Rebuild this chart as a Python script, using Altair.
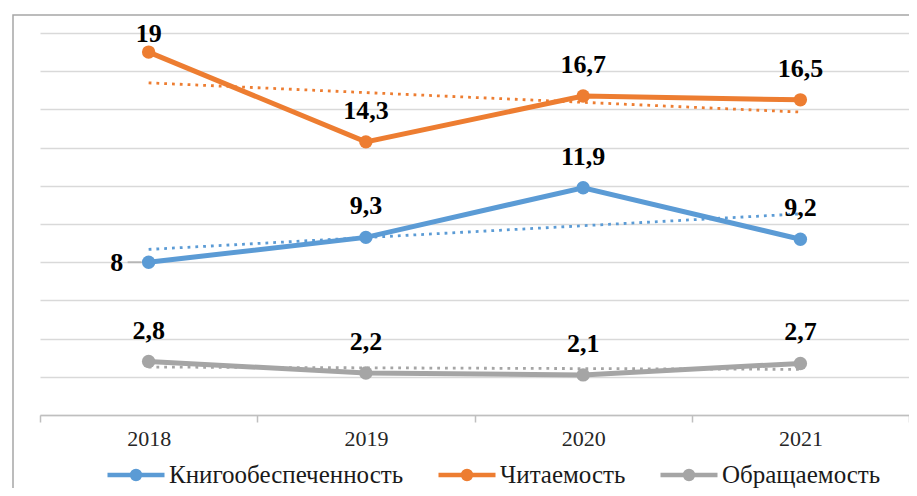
import altair as alt
import pandas as pd

years = ["2018", "2019", "2020", "2021"]
series = ["Книгообеспеченность", "Читаемость", "Обращаемость"]
book = [8, 9.3, 11.9, 9.2]
read = [19, 14.3, 16.7, 16.5]
circ = [2.8, 2.2, 2.1, 2.7]
colors = ["#5B9BD5", "#ED7D31", "#A5A5A5"]
y_ticks = [0, 2, 4, 6, 8, 10, 12, 14, 16, 18, 20]

rows = []
for s, vals in zip(series, [book, read, circ]):
    for yr, v in zip(years, vals):
        rows.append({"series": s, "year": yr, "value": v})
df = pd.DataFrame(rows)

FONT = "Liberation Serif"

x_enc = alt.X(
    "year:O",
    bandPosition=0.5,
    scale=alt.Scale(type="band", domain=years, paddingInner=0, paddingOuter=0),
    axis=alt.Axis(
        title=None, labelAngle=0, labelFont=FONT, labelFontSize=22, labelColor="#262626",
        domainColor="#BFBFBF", domainWidth=1.5, tickColor="#BFBFBF", tickWidth=1.5,
        tickSize=7, tickBand="extent", labelPadding=6, grid=False,
    ),
)
y_enc = alt.Y(
    "value:Q",
    scale=alt.Scale(domain=[0, 20], nice=False, zero=True),
    axis=alt.Axis(
        title=None, values=y_ticks, labels=False, ticks=False, domain=False,
        grid=True, gridColor="#D9D9D9", gridWidth=1.5,
    ),
)
cscale = alt.Scale(domain=series, range=colors)

legend_path = (
    "M-1,0 L1,0 "
    "M0.081,0 A0.081,0.081 0 1,1 -0.081,0 A0.081,0.081 0 1,1 0.081,0 "
    "M0.14,0 A0.14,0.14 0 1,1 -0.14,0 A0.14,0.14 0 1,1 0.14,0"
)
legend = alt.Legend(
    title=None, orient="none", legendX=65, legendY=411, direction="horizontal",
    columns=3, symbolType=legend_path, symbolSize=3249, symbolStrokeWidth=4.5,
    labelFont=FONT, labelFontSize=25, labelColor="#1a1a1a", columnPadding=25,
    labelOffset=2, padding=0, labelLimit=400,
)
color_enc = alt.Color("series:N", scale=cscale, legend=legend)

base = alt.Chart(df)

frame = alt.Chart(pd.DataFrame({"a": [0]})).mark_rect(
    filled=False, stroke="#A6A6A6", strokeWidth=1.5
).encode(x=alt.value(-27), x2=alt.value(3000), y=alt.value(-18), y2=alt.value(3000))

lines = base.mark_line(strokeWidth=5).encode(x=x_enc, y=y_enc, color=color_enc)
points = base.mark_circle(size=180, opacity=1).encode(x=x_enc, y=y_enc, color=color_enc)

trend = (
    base.transform_calculate(yn="toNumber(datum.year)")
    .transform_regression("yn", "value", groupby=["series"], extent=[2018, 2021])
    .transform_calculate(year="toString(datum.yn)")
    .mark_line(strokeWidth=2.8, strokeDash=[2.8, 5])
    .encode(x=x_enc, y=y_enc, color=color_enc)
)

lab = base.transform_calculate(label="replace(toString(datum.value), '.', ',')")
is_8 = f"datum.series == '{series[0]}' && datum.year == '{years[0]}'"
is_19 = f"datum.series == '{series[1]}' && datum.year == '{years[0]}'"
text_kw = dict(font=FONT, fontSize=26, fontWeight="bold", color="#000000", baseline="middle")
labels_main = lab.transform_filter(f"!({is_8}) && !({is_19})").mark_text(dy=-31, **text_kw).encode(
    x=x_enc, y=y_enc, text="label:N"
)
label_19 = lab.transform_filter(is_19).mark_text(dy=-18, **text_kw).encode(x=x_enc, y=y_enc, text="label:N")
label_8 = lab.transform_filter(is_8).mark_text(dx=-32, dy=1, **text_kw).encode(x=x_enc, y=y_enc, text="label:N")
leader = lab.transform_filter(is_8).mark_tick(
    orient="horizontal", size=14, thickness=2, color="#A6A6A6", xOffset=-14
).encode(x=x_enc, y=y_enc)

chart = (
    alt.layer(frame, trend, lines, points, leader, labels_main, label_19, label_8)
    .properties(
        width=869, height=382,
        autosize=alt.AutoSizeParams(type="none"),
        padding={"left": 32, "top": 25, "right": 0, "bottom": 73},
        background="white",
    )
    .configure_view(stroke=None)
)

chart.save("out.html", embed_options={"renderer": "svg", "actions": False})
